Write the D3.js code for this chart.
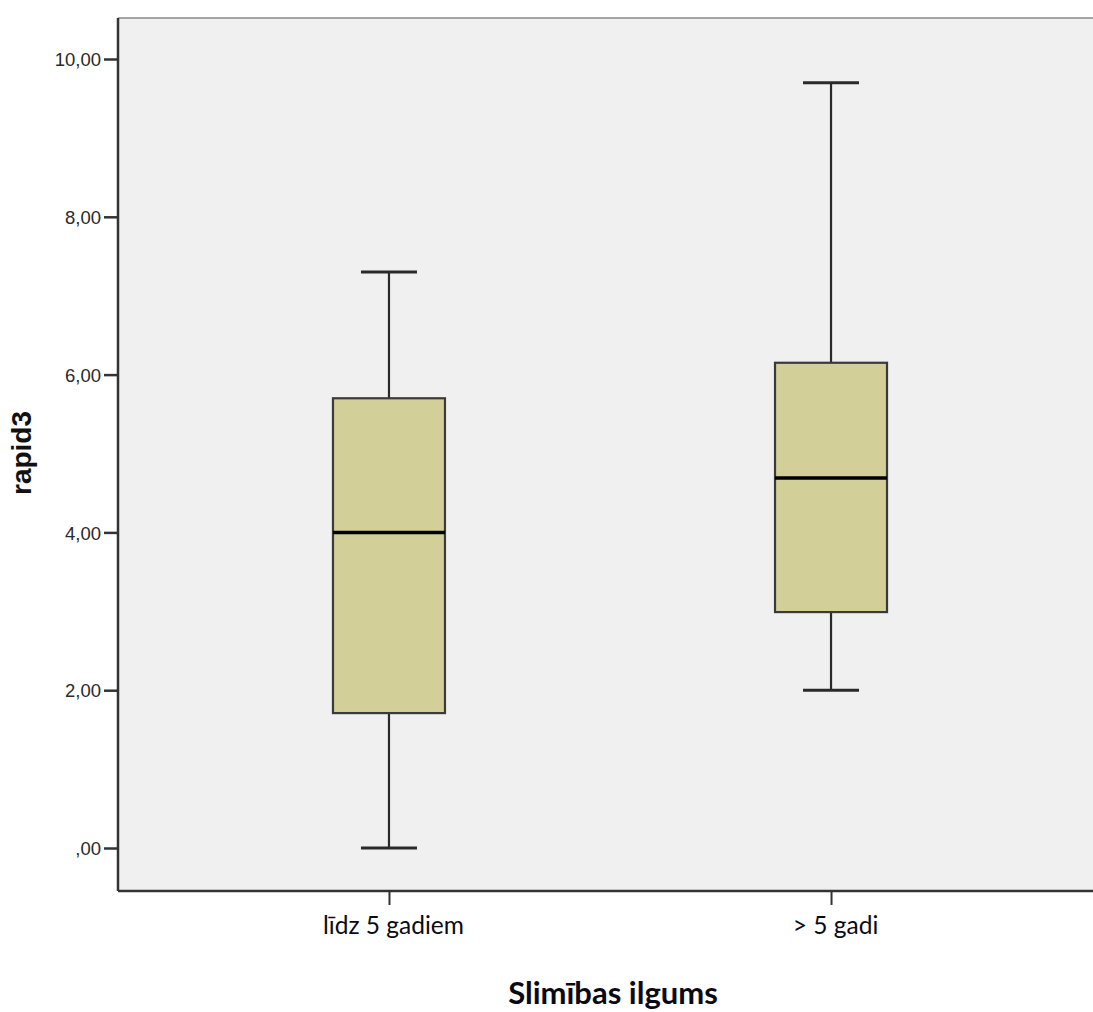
<!DOCTYPE html>
<html>
<head>
<meta charset="utf-8">
<script src="https://cdn.jsdelivr.net/npm/d3@7"></script>
<style>
  html, body { margin: 0; padding: 0; background: #fff; }
  svg { display: block; }
</style>
</head>
<body>
<svg id="chart" width="1093" height="1012"></svg>
<script>
// Box plot summary per group
const categories = ["līdz 5 gadiem", "> 5 gadi"];
const whiskerLow  = [0.00, 2.00];
const q1          = [1.71, 2.99];
const median      = [4.00, 4.69];
const q3          = [5.70, 6.15];
const whiskerHigh = [7.30, 9.70];
const yTicks = [0, 2, 4, 6, 8, 10];
const yTickLabels = [",00", "2,00", "4,00", "6,00", "8,00", "10,00"];

const svg = d3.select("#chart");
const plotLeft = 118, plotTop = 18, plotBottom = 891, plotRight = 1102;

const y = d3.scaleLinear().domain([0, 10]).range([848, 59]);
const x = d3.scalePoint().domain(categories).range([plotLeft, plotRight]).padding(0.613);

// plot background
svg.append("rect")
  .attr("x", plotLeft).attr("y", plotTop)
  .attr("width", plotRight - plotLeft).attr("height", plotBottom - plotTop)
  .attr("fill", "#f0f0f0");

// top border (light)
svg.append("line")
  .attr("x1", plotLeft).attr("x2", plotRight).attr("y1", plotTop).attr("y2", plotTop)
  .attr("stroke", "#8a8a8a").attr("stroke-width", 1.5);

const boxW = 112, capW = 56;
const groups = svg.append("g").selectAll("g")
  .data(categories.map((c, i) => ({ c, lo: whiskerLow[i], q1: q1[i], med: median[i], q3: q3[i], hi: whiskerHigh[i] })))
  .join("g");

// whisker stems
groups.append("line")
  .attr("x1", d => x(d.c)).attr("x2", d => x(d.c))
  .attr("y1", d => y(d.hi)).attr("y2", d => y(d.q3))
  .attr("stroke", "#2a2a2a").attr("stroke-width", 2.2);
groups.append("line")
  .attr("x1", d => x(d.c)).attr("x2", d => x(d.c))
  .attr("y1", d => y(d.q1)).attr("y2", d => y(d.lo))
  .attr("stroke", "#2a2a2a").attr("stroke-width", 2.2);

// whisker caps
groups.append("line")
  .attr("x1", d => x(d.c) - capW / 2).attr("x2", d => x(d.c) + capW / 2)
  .attr("y1", d => y(d.hi)).attr("y2", d => y(d.hi))
  .attr("stroke", "#2a2a2a").attr("stroke-width", 3);
groups.append("line")
  .attr("x1", d => x(d.c) - capW / 2).attr("x2", d => x(d.c) + capW / 2)
  .attr("y1", d => y(d.lo)).attr("y2", d => y(d.lo))
  .attr("stroke", "#2a2a2a").attr("stroke-width", 3);

// boxes
groups.append("rect")
  .attr("x", d => x(d.c) - boxW / 2)
  .attr("y", d => y(d.q3))
  .attr("width", boxW)
  .attr("height", d => y(d.q1) - y(d.q3))
  .attr("fill", "#d3cf98")
  .attr("stroke", "#3a3a3a").attr("stroke-width", 2.2);

// medians
groups.append("line")
  .attr("x1", d => x(d.c) - boxW / 2).attr("x2", d => x(d.c) + boxW / 2)
  .attr("y1", d => y(d.med)).attr("y2", d => y(d.med))
  .attr("stroke", "#000").attr("stroke-width", 3.5);

// y axis
const yAxis = svg.append("g")
  .attr("transform", `translate(${plotLeft},0)`)
  .call(d3.axisLeft(y).tickValues(yTicks).tickFormat((d, i) => yTickLabels[i]).tickSize(14).tickSizeOuter(0));
yAxis.select(".domain").remove();
yAxis.selectAll(".tick line").attr("stroke", "#333").attr("stroke-width", 2.5);
yAxis.selectAll(".tick text")
  .attr("x", -17).attr("dy", "0.36em")
  .attr("font-family", "Liberation Sans, Arial, sans-serif")
  .attr("font-size", 18.5).attr("fill", "#2a2a2a");

svg.append("line")
  .attr("x1", plotLeft).attr("x2", plotLeft).attr("y1", plotTop).attr("y2", plotBottom)
  .attr("stroke", "#333").attr("stroke-width", 2.5);

// x axis
const xAxis = svg.append("g")
  .attr("transform", `translate(0,${plotBottom})`)
  .call(d3.axisBottom(x).tickSize(14).tickSizeOuter(0));
xAxis.select(".domain").remove();
xAxis.selectAll(".tick line").attr("stroke", "#333").attr("stroke-width", 2);
xAxis.selectAll(".tick text")
  .attr("x", 4).attr("y", 43).attr("dy", 0)
  .attr("font-family", "Lato, 'Open Sans', sans-serif")
  .attr("font-size", 24.5).attr("fill", "#0a0a14");

svg.append("line")
  .attr("x1", plotLeft).attr("x2", plotRight).attr("y1", plotBottom).attr("y2", plotBottom)
  .attr("stroke", "#333").attr("stroke-width", 2.5);

// axis titles
svg.append("text")
  .attr("transform", `translate(31,${453}) rotate(-90)`)
  .attr("text-anchor", "middle")
  .attr("font-family", "Liberation Sans, Arial, sans-serif")
  .attr("font-weight", "bold").attr("font-size", 28).attr("fill", "#111")
  .text("rapid3");

svg.append("text")
  .attr("x", 613).attr("y", 1004)
  .attr("text-anchor", "middle")
  .attr("font-family", "Lato, 'Open Sans', sans-serif")
  .attr("font-weight", "bold").attr("font-size", 31).attr("fill", "#0a0a14")
  .text("Slimības ilgums");
</script>
</body>
</html>
